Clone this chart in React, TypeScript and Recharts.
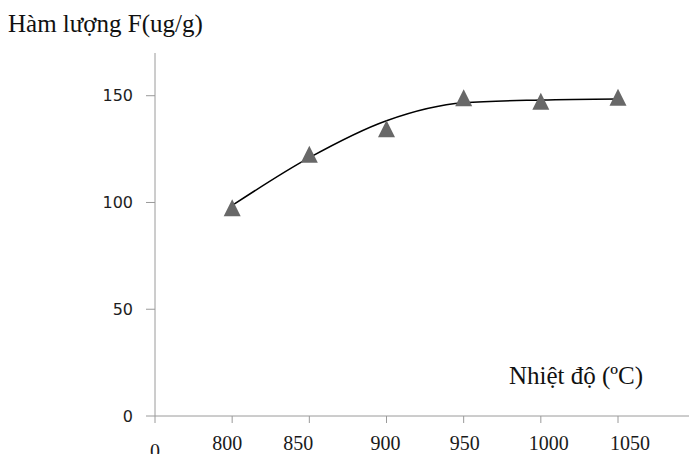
import { ComposedChart, Line, Scatter, XAxis, YAxis } from "recharts"

const temps = [800, 850, 900, 950, 1000, 1050]
const fluoride = [97.3, 122.4, 134.3, 148.8, 147.2, 149]
const trend = [98.6, 121, 138.3, 146.7, 148, 148.5]
const xTicks = [750, 800, 850, 900, 950, 1000, 1050]
const yTicks = [0, 50, 100, 150]

const rows = temps.map((t, i) => ({ t, f: fluoride[i], fit: trend[i] }))

// the x labels in the original sit a little off their ticks
const labelNudge: Record<number, number> = {
  750: 0,
  800: -5,
  850: -11,
  900: -1,
  950: 1,
  1000: 8,
  1050: 12,
}

function XTick(props: any) {
  const { x, y, payload } = props
  const v = payload.value as number
  const isOrigin = v === 750
  return (
    <text
      x={x + (labelNudge[v] ?? 0)}
      y={y + (isOrigin ? 35 : 27)}
      textAnchor="middle"
      fontFamily="'Liberation Serif', serif"
      fontSize={20}
      fill="#1a1a1a"
    >
      {isOrigin ? "0" : v}
    </text>
  )
}

function Triangle(props: any) {
  const { cx, cy } = props
  if (cx == null || cy == null) return null
  return (
    <polygon
      points={`${cx},${cy - 9} ${cx - 8.5},${cy + 8} ${cx + 8.5},${cy + 8}`}
      fill="#686868"
    />
  )
}

export default function App() {
  return (
    <div style={{ position: "absolute", left: 0, top: 0, width: 689, height: 454, background: "#fff" }}>
      <ComposedChart
        width={689}
        height={454}
        data={rows}
        margin={{ top: 53, right: 0, bottom: 0, left: 99 }}
      >
        <XAxis
          dataKey="t"
          type="number"
          domain={[750, 1096]}
          ticks={xTicks}
          tick={<XTick />}
          tickSize={7}
          tickMargin={0}
          height={38}
          stroke="#9a9a9a"
          allowDataOverflow
        />
        <YAxis
          domain={[0, 170]}
          ticks={yTicks}
          width={56}
          tickSize={9}
          tickMargin={13}
          stroke="#9a9a9a"
          tick={{ fill: "#1e1e1e", fontSize: 16, fontFamily: "'DejaVu Sans', sans-serif" }}
        />
        <Line
          dataKey="fit"
          type="monotone"
          stroke="#000"
          strokeWidth={1.5}
          dot={false}
          isAnimationActive={false}
        />
        <Scatter dataKey="f" shape={<Triangle />} isAnimationActive={false} />
      </ComposedChart>
      <div
        style={{
          position: "absolute",
          left: 8,
          top: 11,
          fontFamily: "'Liberation Serif', serif",
          fontSize: 25,
          lineHeight: "25px",
          color: "#111",
          whiteSpace: "nowrap",
        }}
      >
        Hàm lượng F(ug/g)
      </div>
      <div
        style={{
          position: "absolute",
          left: 509,
          top: 363,
          fontFamily: "'Liberation Serif', serif",
          fontSize: 25,
          lineHeight: "25px",
          color: "#111",
          whiteSpace: "nowrap",
        }}
      >
        Nhiệt độ (ºC)
      </div>
    </div>
  )
}
